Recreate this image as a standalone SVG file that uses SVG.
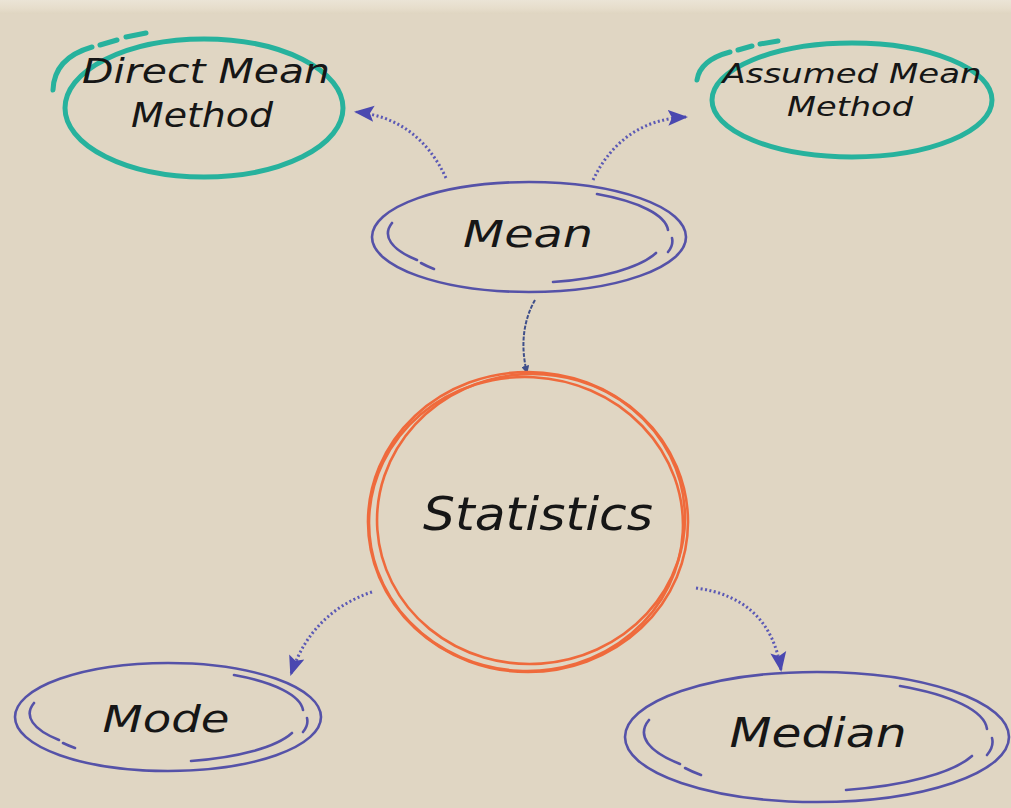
<svg xmlns="http://www.w3.org/2000/svg" width="1011" height="808" viewBox="0 0 1011 808">
<defs>
<linearGradient id="topband" x1="0" y1="0" x2="0" y2="1">
<stop offset="0" stop-color="#ebe4d6"/>
<stop offset="0.6" stop-color="#e6ddcb"/>
<stop offset="1" stop-color="#dfd5c1"/>
</linearGradient>
<marker id="ah" viewBox="0 0 10 10" refX="9" refY="5" markerWidth="8" markerHeight="8" markerUnits="userSpaceOnUse" orient="auto">
<path d="M0,0 L10,5 L0,10 Z" fill="#3f4f8a"/>
</marker>
<marker id="ahb" viewBox="0 0 10 10" refX="9" refY="5" markerWidth="20" markerHeight="20" markerUnits="userSpaceOnUse" orient="auto">
<path d="M0,1 L10,5 L0,9 L2,5 Z" fill="#4a48b0"/>
</marker>
<style>
.txt{font-family:"DejaVu Sans","Liberation Sans",sans-serif;font-style:oblique;fill:#161616;text-anchor:middle}
.teal{fill:none;stroke:#27b29d;stroke-width:5;stroke-linecap:round}
.pur{fill:none;stroke:#5552a8;stroke-width:2.6;stroke-linecap:round}
.org{fill:none;stroke:#ef6a3c;stroke-width:2.6}
.dot{fill:none;stroke:#5b59b5;stroke-width:3;stroke-dasharray:2 2.5}
</style>
</defs>
<rect x="0" y="0" width="1011" height="808" fill="#e0d6c3"/>
<rect x="0" y="0" width="1011" height="14" fill="url(#topband)"/>

<g id="connectors">
<path class="dot" d="M446,178 Q418,118 356,112" marker-end="url(#ahb)"/>
<path class="dot" d="M593,180 Q622,120 686,117" marker-end="url(#ahb)"/>
<path fill="none" stroke="#3f4f8a" stroke-width="2" stroke-dasharray="4 1.5" d="M535,300 Q517,332 527,373" marker-end="url(#ah)"/>
<path class="dot" d="M372,592 Q312,612 291,674" marker-end="url(#ahb)"/>
<path class="dot" d="M696,588 Q770,598 781,670" marker-end="url(#ahb)"/>
</g>

<g id="direct-mean-method">
<ellipse class="teal" cx="204" cy="108" rx="139" ry="69"/>
<path class="teal" d="M53,90 Q54,58 92,47"/>
<path class="teal" d="M100,45 L117,40"/>
<path class="teal" d="M126,37 L146,33"/>
<text class="txt" x="206" y="83" font-size="33" textLength="248" lengthAdjust="spacingAndGlyphs">Direct Mean</text>
<text class="txt" x="202" y="127" font-size="33" textLength="142" lengthAdjust="spacingAndGlyphs">Method</text>
</g>

<g id="assumed-mean-method">
<ellipse class="teal" cx="852" cy="100" rx="140" ry="57"/>
<path class="teal" d="M697,80 Q700,60 730,52"/>
<path class="teal" d="M738,50 L752,46"/>
<path class="teal" d="M760,44 L778,41"/>
<text class="txt" x="852" y="83" font-size="27" textLength="259" lengthAdjust="spacingAndGlyphs">Assumed Mean</text>
<text class="txt" x="850" y="116" font-size="27" textLength="126" lengthAdjust="spacingAndGlyphs">Method</text>
</g>

<g id="mean">
<ellipse class="pur" cx="529" cy="237" rx="157" ry="55"/>
<path class="pur" d="M597,194 A143,44 0 0 1 668,230 M672,238 A143,44 0 0 1 668,252 M656,253 A143,44 0 0 1 553,282 M392,223 A143,44 0 0 0 417,260 M421,263 A143,44 0 0 0 434,269"/>
<text class="txt" x="528" y="247" font-size="38" textLength="130" lengthAdjust="spacingAndGlyphs">Mean</text>
</g>

<g id="statistics">
<ellipse class="org" cx="528" cy="522" rx="160" ry="150"/>
<ellipse class="org" cx="531" cy="519" rx="154" ry="145" transform="rotate(-4 531 519)"/>
<ellipse class="org" cx="526" cy="524" rx="157" ry="147" transform="rotate(3 526 524)"/>
<text class="txt" x="538" y="530" font-size="46" textLength="230" lengthAdjust="spacingAndGlyphs">Statistics</text>
</g>

<g id="mode">
<ellipse class="pur" cx="168" cy="717" rx="153" ry="54"/>
<path class="pur" d="M234,675 A139,43 0 0 1 303,710 M307,718 A139,43 0 0 1 303,732 M292,733 A139,43 0 0 1 191,761 M34,703 A139,43 0 0 0 59,740 M63,743 A139,43 0 0 0 75,748"/>
<text class="txt" x="166" y="732" font-size="38" textLength="127" lengthAdjust="spacingAndGlyphs">Mode</text>
</g>

<g id="median">
<ellipse class="pur" cx="817" cy="737" rx="192" ry="65"/>
<path class="pur" d="M900,686 A175,52 0 0 1 987,729 M992,738 A175,52 0 0 1 987,755 M972,756 A175,52 0 0 1 846,790 M649,720 A175,52 0 0 0 680,764 M685,768 A175,52 0 0 0 701,775"/>
<text class="txt" x="818" y="747" font-size="40" textLength="177" lengthAdjust="spacingAndGlyphs">Median</text>
</g>
</svg>
